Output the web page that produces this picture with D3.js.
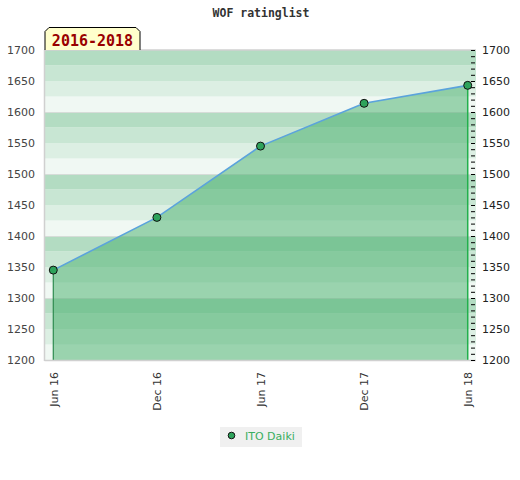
<!DOCTYPE html>
<html>
<head>
<meta charset="utf-8">
<script src="https://cdn.jsdelivr.net/npm/d3@7"></script>
<style>
  html, body { margin: 0; padding: 0; background: #fff; }
  svg { display: block; }
</style>
</head>
<body>
<svg id="chart" width="520" height="480"></svg>
<script>
// ---- data ----
const dates = ["Jun 16", "Dec 16", "Jun 17", "Dec 17", "Jun 18"];
const ratings = [1345, 1430, 1545, 1614, 1643];
const yTicks = [1200, 1250, 1300, 1350, 1400, 1450, 1500, 1550, 1600, 1650, 1700];
const seriesName = "ITO Daiki";
const periodLabel = "2016-2018";
const chartTitle = "WOF ratinglist";

const svg = d3.select("#chart");
const L = 45, R = 476, T = 50, B = 360;
const fmt = d3.format("d");

const x = d3.scalePoint().domain(dates).range([L, R]).padding(0.08);
const y = d3.scaleLinear().domain([1200, 1700]).range([B, T]);

// background stripes (25-unit bands, 4 shades per 100)
const bandColors = ["#f0f8f3", "#dcefe3", "#c8e6d3", "#b3dcc2"];
const stripes = d3.range(1200, 1700, 25);
svg.append("g").selectAll("rect").data(stripes).join("rect")
  .attr("x", L).attr("width", R - L)
  .attr("y", d => y(d + 25)).attr("height", d => y(d) - y(d + 25))
  .attr("fill", d => bandColors[((d - 1200) / 25) % 4]);

// faint lines at every 100
svg.append("g").selectAll("line").data(yTicks.filter(v => v % 100 === 0 && v > 1200 && v < 1700)).join("line")
  .attr("x1", L).attr("x2", R).attr("y1", d => y(d) + 0.5).attr("y2", d => y(d) + 0.5)
  .attr("stroke", "#d6dcd8").attr("stroke-width", 1);

// area
const pts = dates.map((d, i) => ({ d, v: ratings[i] }));
const area = d3.area().x(p => x(p.d)).y0(y(1200)).y1(p => y(p.v));
svg.append("path").datum(pts).attr("d", area)
  .attr("fill", "rgb(67,174,106)").attr("fill-opacity", 0.5);

// vertical edges of area
svg.append("line")
  .attr("x1", x(dates[0])).attr("x2", x(dates[0]))
  .attr("y1", y(ratings[0])).attr("y2", y(1200))
  .attr("stroke", "#2e8b4f").attr("stroke-width", 1.2);
svg.append("line")
  .attr("x1", x(dates[dates.length - 1])).attr("x2", x(dates[dates.length - 1]))
  .attr("y1", y(ratings[ratings.length - 1])).attr("y2", y(1200))
  .attr("stroke", "#22b04c").attr("stroke-width", 1.5);

// borders
svg.append("line").attr("x1", L - 0.5).attr("x2", R).attr("y1", T).attr("y2", T)
  .attr("stroke", "#d0d0d0").attr("stroke-width", 1.5);
svg.append("line").attr("x1", L - 0.5).attr("x2", L - 0.5).attr("y1", T).attr("y2", B + 1)
  .attr("stroke", "#d0d0d0").attr("stroke-width", 1.5);
svg.append("line").attr("x1", L - 0.5).attr("x2", R).attr("y1", B + 0.5).attr("y2", B + 0.5)
  .attr("stroke", "#d0d0d0").attr("stroke-width", 1.5);

// line
const line = d3.line().x(p => x(p.d)).y(p => y(p.v));
svg.append("path").datum(pts).attr("d", line)
  .attr("fill", "none").attr("stroke", "#5ba3dc").attr("stroke-width", 1.6);

// points
svg.append("g").selectAll("circle").data(pts).join("circle")
  .attr("cx", p => x(p.d)).attr("cy", p => y(p.v)).attr("r", 4)
  .attr("fill", "#2ea35b").attr("stroke", "#111").attr("stroke-width", 1);

// left axis
const leftAxis = svg.append("g").attr("transform", `translate(${L},0)`)
  .call(d3.axisLeft(y).tickValues(yTicks).tickFormat(fmt).tickSize(0).tickPadding(10));
leftAxis.select(".domain").remove();
leftAxis.selectAll("text").attr("font-family", "DejaVu Sans").attr("font-size", 11).attr("fill", "#444");

// right minor ticks
const minor = d3.range(1200, 1701, 10);
const rt = svg.append("g").attr("transform", `translate(${R - 1},0)`)
  .call(d3.axisLeft(y).tickValues(minor).tickSize(4).tickFormat(""));
rt.select(".domain").remove();
rt.selectAll("line").attr("stroke", "#000");

// right labels
const rightAxis = svg.append("g").attr("transform", `translate(${R},0)`)
  .call(d3.axisRight(y).tickValues(yTicks).tickFormat(fmt).tickSize(0).tickPadding(6));
rightAxis.select(".domain").remove();
rightAxis.selectAll("text").attr("font-family", "DejaVu Sans").attr("font-size", 11).attr("fill", "#222");

// x labels (rotated)
const bottomAxis = svg.append("g").attr("transform", `translate(0,${B})`)
  .call(d3.axisBottom(x).tickSize(0));
bottomAxis.select(".domain").remove();
bottomAxis.selectAll("text")
  .attr("font-family", "DejaVu Sans").attr("font-size", 11).attr("fill", "#333")
  .attr("text-anchor", "end")
  .attr("transform", "rotate(-90)")
  .attr("x", -12).attr("y", 0).attr("dy", "0.35em");

// title
svg.append("text").attr("x", 261).attr("y", 13).attr("dy", "0.35em")
  .attr("text-anchor", "middle")
  .attr("font-family", "DejaVu Sans Mono").attr("font-weight", "bold").attr("font-size", 11.5)
  .attr("fill", "#333").text(chartTitle);

// period tab
const tx0 = 45, tx1 = 140, ty0 = 27.5, ty1 = 50, c = 4;
svg.append("path")
  .attr("d", `M${tx0},${ty1} L${tx0},${ty0 + c} L${tx0 + c},${ty0} L${tx1 - c},${ty0} L${tx1},${ty0 + c} L${tx1},${ty1}`)
  .attr("fill", "#ffffcc").attr("stroke", "#000").attr("stroke-width", 1);
svg.append("text").attr("x", (tx0 + tx1) / 2).attr("y", 40.5).attr("dy", "0.35em")
  .attr("text-anchor", "middle")
  .attr("font-family", "DejaVu Sans Mono").attr("font-weight", "bold").attr("font-size", 15)
  .attr("fill", "#990000").text(periodLabel);

// legend
const lg = svg.append("g");
lg.append("rect").attr("x", 220).attr("y", 427).attr("width", 82).attr("height", 20).attr("fill", "#f0f0f0");
lg.append("circle").attr("cx", 231.5).attr("cy", 435.5).attr("r", 3.3)
  .attr("fill", "#2ea35b").attr("stroke", "#111").attr("stroke-width", 1);
lg.append("text").attr("x", 245).attr("y", 436).attr("dy", "0.35em")
  .attr("font-family", "DejaVu Sans").attr("font-size", 11)
  .attr("fill", "#3aae5f").text(seriesName);
</script>
</body>
</html>
